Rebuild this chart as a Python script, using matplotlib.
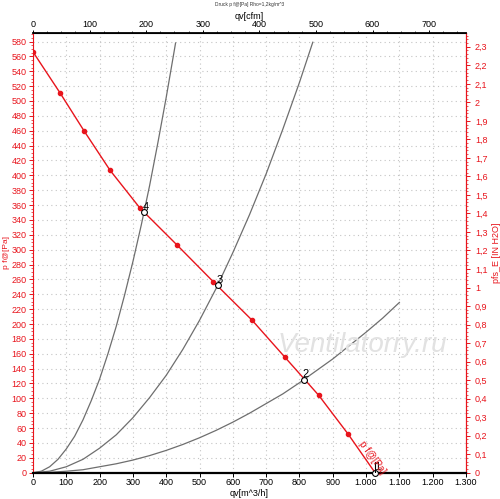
import matplotlib
matplotlib.use('Agg')
import matplotlib.pyplot as plt
from matplotlib.ticker import MultipleLocator, FixedLocator, FuncFormatter, AutoMinorLocator

plt.rcParams['font.family'] = ['Liberation Sans', 'DejaVu Sans']

# fan curve p f [Pa] over qv [m^3/h]
fan_q = [0, 81, 153, 231, 321, 433, 541, 658, 757, 858, 946, 1027]
fan_p = [566, 511, 460, 407, 356, 306, 257, 205, 155, 104, 52, 0]

# system curves (gray)
sys4_q = [0, 25, 50, 75, 100, 125, 150, 175, 200, 225, 250, 275, 300,
          325, 350, 375, 400, 425, 428]
sys4_p = [0, 2, 8, 18, 32, 49, 71, 97, 126, 160, 197, 239, 284,
          333, 386, 444, 505, 570, 578]
sys3_q = [0, 50, 100, 150, 200, 250, 300, 350, 400, 450, 500, 550, 600,
          650, 700, 750, 800, 840]
sys3_p = [0, 2, 8, 18, 33, 51, 74, 101, 131, 166, 205, 248, 296,
          347, 402, 462, 525, 579]
sys2_q = [0, 50, 100, 150, 200, 250, 300, 350, 400, 450, 500, 550, 600,
          650, 700, 750, 800, 850, 900, 950, 1000, 1050, 1100]
sys2_p = [0, 0.5, 2, 4, 8, 12, 17, 23, 30, 38, 47, 57, 68,
          80, 93, 106, 121, 137, 153, 171, 189, 208, 229]

# operating points
op_labels = ['1', '2', '3', '4']
op_q = [1027, 813, 554, 334]
op_p = [0, 125, 252, 350]

RED = '#e8141c'
PA_PER_INH2O = 249.089
M3H_PER_CFM = 1.699

fig = plt.figure(figsize=(5.0, 4.99), dpi=100)
ax = fig.add_axes([0.066, 0.0527, 0.866, 0.882])

ax.set_xlim(0, 1300)
ax.set_ylim(0, 592)

ax.xaxis.set_major_locator(MultipleLocator(100))
ax.yaxis.set_major_locator(MultipleLocator(20))
ax.yaxis.set_minor_locator(AutoMinorLocator(4))
ax.xaxis.set_major_formatter(FuncFormatter(
    lambda v, p: f'{int(v):,}'.replace(',', '.')))
ax.grid(True, which='major', color='#c4c4c4', linestyle=(0, (1, 3)), linewidth=0.8)

for q, p in [(sys4_q, sys4_p), (sys3_q, sys3_p), (sys2_q, sys2_p)]:
    ax.plot(q, p, color='#6e6e6e', linewidth=0.9, zorder=2)

ax.plot(fan_q, fan_p, color=RED, linewidth=1.0, zorder=3)
ax.plot(fan_q[:-1], fan_p[:-1], linestyle='none', marker='o', markersize=3.0,
        color=RED, zorder=4)

ax.plot(op_q, op_p, linestyle='none', marker='o', markersize=4.2,
        markerfacecolor='white', markeredgecolor='black', markeredgewidth=0.8,
        zorder=5, clip_on=False)
for lab, q, p in zip(op_labels, op_q, op_p):
    ax.annotate(lab, (q, p), xytext=(-1, 2), textcoords='offset points',
                fontsize=8, color='black', zorder=6)
ax.plot([op_q[0], op_q[0]], [0, 14], color='black', linewidth=0.8, zorder=5)

ax.text(1018, 20, 'p f@[Pa]', color=RED, fontsize=7, rotation=-54,
        ha='center', va='center', zorder=6)

# spines and ticks
ax.spines['left'].set_color(RED)
ax.spines['right'].set_color(RED)
ax.spines['bottom'].set_linewidth(1.6)
ax.spines['top'].set_linewidth(1.3)
ax.tick_params(axis='y', colors=RED, labelsize=6.5, length=3, width=0.7, pad=1.5)
ax.tick_params(axis='y', which='minor', colors=RED, length=1.5, width=0.5)
ax.tick_params(axis='x', labelsize=6.5, length=3, width=0.7, pad=1)
ax.set_xlabel('qv[m^3/h]', fontsize=6.5, labelpad=1)
ax.set_ylabel('p f@[Pa]', fontsize=6, color=RED)
ax.yaxis.set_label_coords(-0.053, 0.5)

top = ax.secondary_xaxis('top', functions=(lambda x: x / M3H_PER_CFM,
                                           lambda x: x * M3H_PER_CFM))
top.xaxis.set_major_locator(MultipleLocator(100))
top.xaxis.set_minor_locator(MultipleLocator(25))
top.tick_params(labelsize=6.5, length=2, width=0.7, pad=0.5)
top.tick_params(which='minor', length=1.2, width=0.5)
top.set_xlabel('qv[cfm]', fontsize=6.5, labelpad=1)

right = ax.secondary_yaxis('right', functions=(lambda y: y / PA_PER_INH2O,
                                               lambda y: y * PA_PER_INH2O))
right_ticks = [i / 10 for i in range(24)]
right.yaxis.set_major_locator(FixedLocator(right_ticks))
right.yaxis.set_minor_locator(MultipleLocator(0.02))
right.yaxis.set_major_formatter(FuncFormatter(
    lambda v, p: (f'{v:.1f}'.rstrip('0').rstrip('.')).replace('.', ',')))
right.tick_params(colors=RED, labelsize=6.5, length=3, width=0.7)
right.tick_params(which='minor', colors=RED, length=1.5, width=0.5)
right.spines['right'].set_color(RED)
right.set_ylabel('pfs_E [IN H2O]', fontsize=6.5, color=RED, labelpad=3)

fig.text(0.5, 0.99, 'Druck p f@[Pa] Rho=1,2kg/m^3', fontsize=3.5,
         ha='center', va='center', color='#333333')

fig.text(0.556, 0.309, 'Ventilatorry.ru', fontsize=20, style='italic',
         color='#e2e2e2', ha='left', va='center', zorder=1)

fig.savefig('out.png', dpi=100)
